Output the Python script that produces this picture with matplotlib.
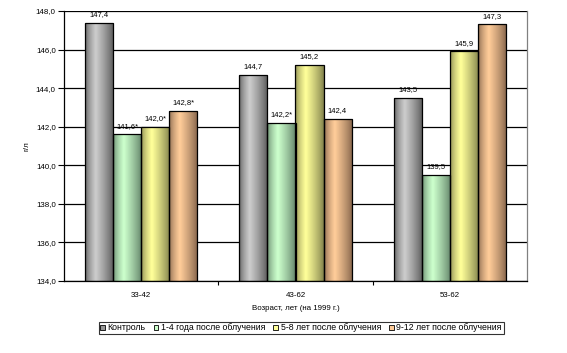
import numpy as np
import matplotlib
matplotlib.use("Agg")
import matplotlib.pyplot as plt
from matplotlib.patches import Patch
from matplotlib.colors import LinearSegmentedColormap

plt.rcParams['font.family'] = ['Liberation Sans', 'DejaVu Sans']

categories = ["33-42", "43-62", "53-62"]
series_names = ["Контроль", "1-4 года после облучения", "5-8 лет после облучения", "9-12 лет после облучения"]
control = [147.4, 144.7, 143.5]
y1_4 = [141.6, 142.2, 139.5]
y5_8 = [142.0, 145.2, 145.9]
y9_12 = [142.8, 142.4, 147.3]
labels = [["147,4", "144,7", "143,5"],
          ["141,6*", "142,2*", "139,5"],
          ["142,0*", "145,2", "145,9"],
          ["142,8*", "142,4", "147,3"]]
yticks = [134, 136, 138, 140, 142, 144, 146, 148]
ytick_labels = ["134,0", "136,0", "138,0", "140,0", "142,0", "144,0", "146,0", "148,0"]

series = [control, y1_4, y5_8, y9_12]
# (edge dark, center light) for cylinder shading
shades = [("#555555", "#cccccc"), ("#5f7f66", "#ccffcc"), ("#7f7f4a", "#ffff99"), ("#7f6048", "#ffcc99")]
legend_colors = ["#969696", "#ccffcc", "#ffff99", "#ffcc99"]

fig = plt.figure(figsize=(5.67, 3.53), dpi=100)
ax = fig.add_axes([64/567, 1-281/353, 463/567, 270/353])

x = np.arange(len(categories))
w = 0.1815
ymin = 134
prof = np.concatenate([np.linspace(0, 1, 24)**0.6, np.linspace(1, 0, 40)**0.8])
for i, vals in enumerate(series):
    bars = ax.bar(x + (i - 1.5) * w, np.array(vals) - ymin, w, bottom=ymin,
                  color='none', edgecolor='black', linewidth=0.9, zorder=3)
    cmap = LinearSegmentedColormap.from_list("c", [shades[i][0], shades[i][1]])
    for b, lab in zip(bars, labels[i]):
        bx, by = b.get_x(), b.get_y()
        bw, bh = b.get_width(), b.get_height()
        im = ax.imshow(prof.reshape(1, -1), cmap=cmap,
                       extent=[bx, bx + bw, by, by + bh], aspect='auto', zorder=2, vmin=0, vmax=1)
        im.set_clip_path(b)
        ax.text(bx + bw / 2, by + bh + 0.25, lab, ha='center', va='bottom', fontsize=5.5, zorder=4)

ax.set_xlim(-0.5, 2.5)
ax.set_ylim(134, 148)
ax.set_yticks(yticks)
ax.set_yticklabels(ytick_labels, fontsize=5.7)
ax.set_xticks(x)
ax.set_xticklabels(categories, fontsize=5.7)
ax.set_xticks([0.5, 1.5], minor=True)
ax.tick_params(axis='x', which='major', length=0, pad=8)
ax.tick_params(axis='x', which='minor', length=3, width=0.8, direction='out')
ax.tick_params(axis='y', length=4, width=0.8, direction='out', pad=2)
ax.grid(axis='y', color='black', linewidth=0.9, zorder=1)
ax.set_axisbelow(True)
for s in ['left', 'bottom']:
    ax.spines[s].set_color('black')
    ax.spines[s].set_linewidth(0.9)
ax.spines['top'].set_visible(False)
ax.spines['right'].set_color('#808080')
ax.spines['right'].set_linewidth(0.9)

ax.set_xlabel("Возраст, лет (на 1999 г.)", fontsize=5.7, labelpad=4)
ax.set_ylabel("г/л", fontsize=5.7, labelpad=4)

handles = [Patch(facecolor=c, edgecolor='black', linewidth=0.6) for c in legend_colors]
leg = fig.legend(handles, series_names, loc='center', bbox_to_anchor=(301/567, 1-328/353), ncol=4,
                 fontsize=6.3, frameon=True, fancybox=False, edgecolor='black',
                 handlelength=0.55, handleheight=0.55, handletextpad=0.3, columnspacing=0.9,
                 borderpad=0.2, borderaxespad=0)
leg.get_frame().set_linewidth(0.8)

fig.savefig("out.png", dpi=100)
